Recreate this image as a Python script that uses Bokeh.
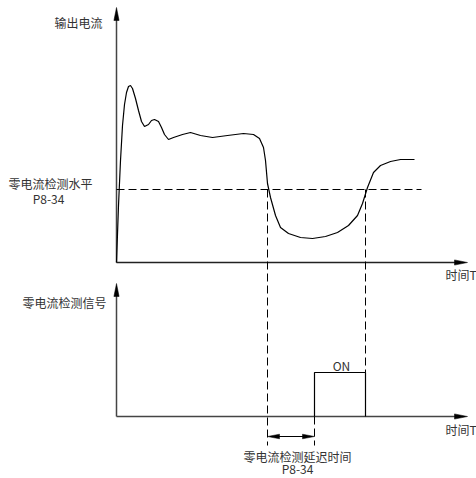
from bokeh.plotting import figure
from bokeh.models import Range1d
from bokeh.core.properties import value
from bokeh.embed import file_html
from bokeh.resources import INLINE

# ---- data (time units along x, current units along y) ----
curve_t = [0, 2, 4, 6, 8, 10, 12, 14, 16, 19, 22, 25, 28, 32, 35, 38, 42, 45, 48, 52,
           57, 66, 74, 84, 96, 111, 127, 137, 143, 147, 149, 151, 154, 159, 164, 172,
           184, 196, 209, 221, 232, 241, 246, 251, 257, 264, 274, 284, 298]
curve_i = [0, 57, 102, 137, 158, 170, 176, 177, 174, 164, 152, 141, 136, 138, 142, 143,
           141, 135, 128, 123, 125, 128, 130, 127, 125, 127, 129, 128, 124, 115, 102, 79,
           65, 47, 35, 29, 25, 24, 26, 30, 37, 47, 59, 75, 90, 97, 101, 103, 103]
threshold_level = 73          # 零电流检测水平 P8-34
cross_times = [151, 249]      # times where current crosses the level
delay_end = 198               # end of detection delay
signal_t = [198, 198, 249, 249]
signal_v = [0, 1, 1, 0]       # zero-current detection signal (OFF/ON)

# ---- layout constants ----
T_AXIS_END = 351
UPPER_TOP = 255
LOWER_BASE = -154
LOWER_TOP = -21
ON_HEIGHT = 44
THRESH_END = 305
DASH_BOTTOM = -183
DELAY_ARROW_Y = -174

FONT = value("Noto Sans CJK SC")
TXT = "#333333"
AXC = "#444444"

p = figure(width=476, height=478, output_backend="svg", toolbar_location=None,
           x_range=Range1d(-116, 360), y_range=Range1d(-216, 262),
           min_border=0, outline_line_color=None, background_fill_color="white")
p.xaxis.visible = False
p.yaxis.visible = False
p.grid.visible = False

HL = 13   # arrowhead length
HW = 2.6  # arrowhead half-width


def axis_arrows(base, top):
    p.line([0, 0], [base, top - HL + 1], line_color=AXC, line_width=1.5)
    p.patch([-HW, 0, HW], [top - HL, top, top - HL], fill_color="black",
            line_color="black", line_width=0.5)
    p.line([0, T_AXIS_END - HL + 1], [base, base],
           line_color=AXC if base else "#222222", line_width=1.4)
    p.patch([T_AXIS_END - HL, T_AXIS_END, T_AXIS_END - HL], [base - HW, base, base + HW],
            fill_color="black", line_color="black", line_width=0.5)


axis_arrows(0, UPPER_TOP)
axis_arrows(LOWER_BASE, LOWER_TOP)

# current curve
p.line(curve_t, curve_i, line_color="black", line_width=1.2)

# threshold dashed
p.line([0, THRESH_END], [threshold_level, threshold_level], line_color="black",
       line_width=1, line_dash="8 4")

# vertical dashed lines
p.line([cross_times[0], cross_times[0]], [threshold_level, DASH_BOTTOM], line_color="black",
       line_width=1, line_dash="8 4")
p.line([cross_times[1], cross_times[1]], [threshold_level, LOWER_BASE + ON_HEIGHT],
       line_color="black", line_width=1, line_dash="8 4")
p.line([delay_end, delay_end], [LOWER_BASE, DASH_BOTTOM], line_color="black",
       line_width=1, line_dash="8 4")

# signal pulse
p.line(signal_t, [LOWER_BASE + v * ON_HEIGHT for v in signal_v], line_color="black",
       line_width=1.2)

# delay double arrow
a0, a1 = cross_times[0], delay_end
p.line([a0 + 8, a1 - 8], [DELAY_ARROW_Y, DELAY_ARROW_Y], line_color="black", line_width=1)
p.patch([a0 + 12, a0, a0 + 12], [DELAY_ARROW_Y - 2.3, DELAY_ARROW_Y, DELAY_ARROW_Y + 2.3],
        fill_color="black", line_color="black", line_width=0.5)
p.patch([a1 - 12, a1, a1 - 12], [DELAY_ARROW_Y - 2.3, DELAY_ARROW_Y, DELAY_ARROW_Y + 2.3],
        fill_color="black", line_color="black", line_width=0.5)


def txt(x, y, s, align):
    p.text(x=[x], y=[y], text=[s], text_font=FONT, text_font_size="12px",
           text_color=TXT, text_align=align, text_baseline="middle")


txt(-14, 240, "输出电流", "right")
txt(-66, 79, "零电流检测水平", "center")
txt(-68, 64, "P8-34", "center")
txt(329, -12, "时间T", "left")
txt(-10, -40, "零电流检测信号", "right")
txt(329, -167, "时间T", "left")
txt(225, LOWER_BASE + ON_HEIGHT + 7, "ON", "center")
txt(181, -194, "零电流检测延迟时间", "center")
txt(181, -206, "P8-34", "center")

open("out.html", "w").write(file_html(p, INLINE))
